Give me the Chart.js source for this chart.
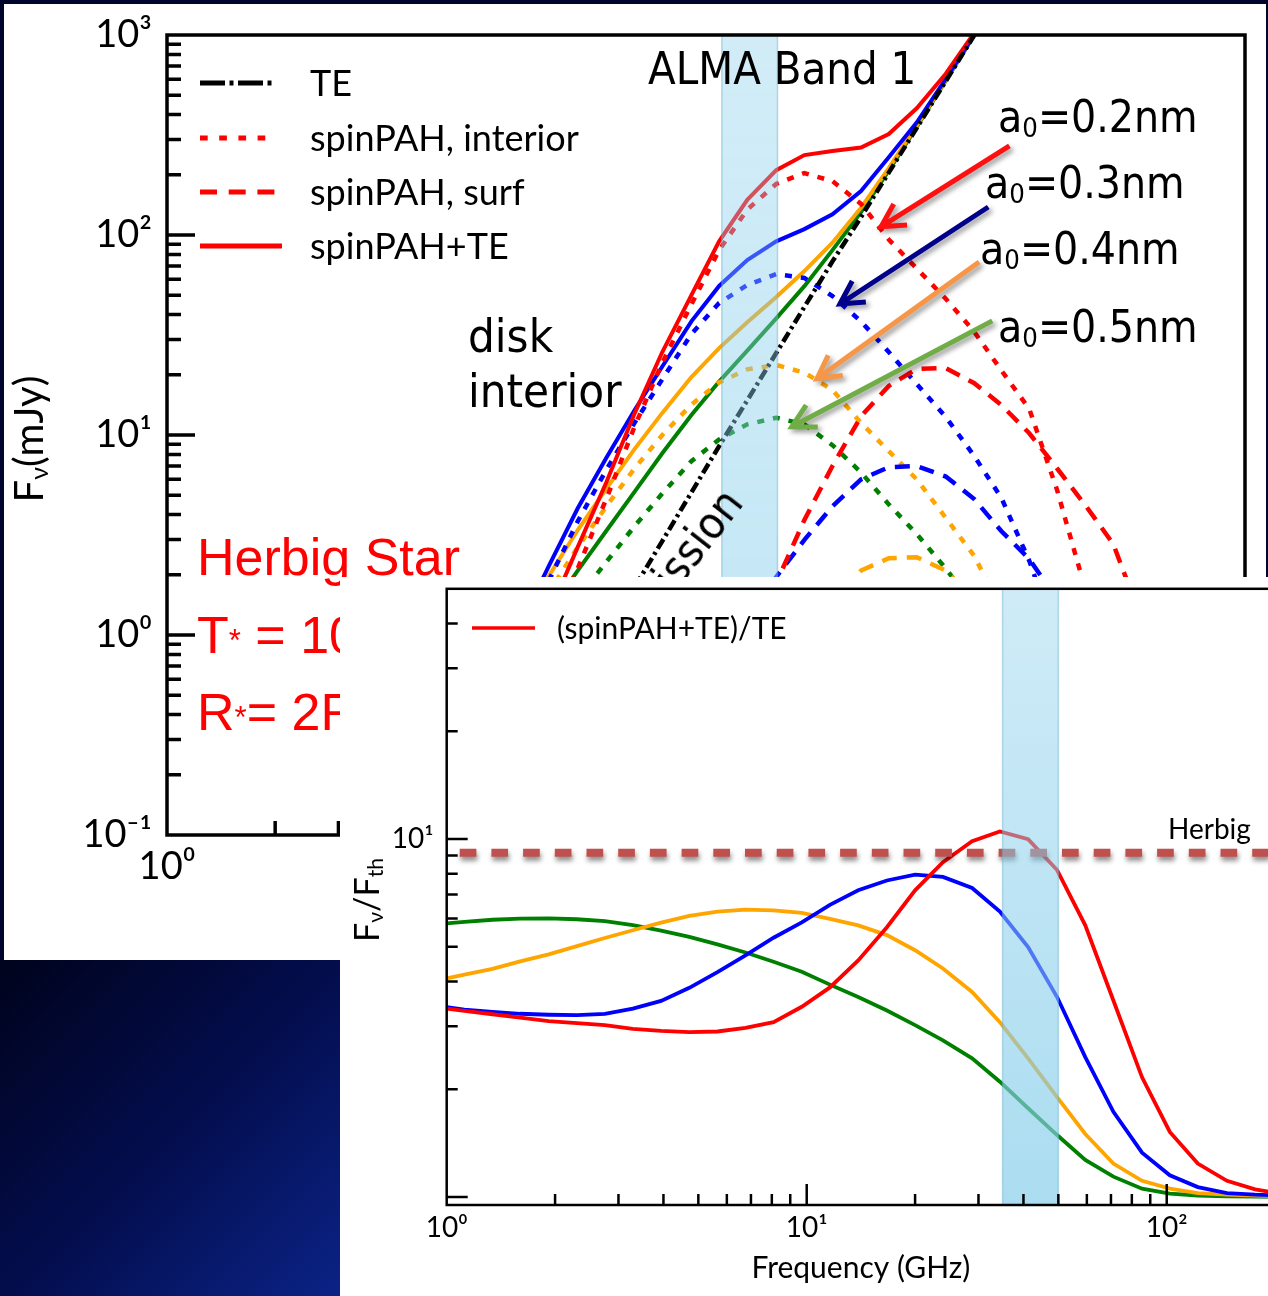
<!DOCTYPE html>
<html>
<head>
<meta charset="utf-8">
<title>Spinning PAH emission - Herbig star disk</title>
<script src="https://cdn.jsdelivr.net/npm/chart.js@4.4.1/dist/chart.umd.min.js"></script>
<style>
  html, body { margin: 0; padding: 0; }
  body {
    width: 1268px; height: 1296px; overflow: hidden; position: relative;
    background: #00052c;
    font-family: Lato, "DejaVu Sans", sans-serif; color: #000;
  }
  #bg { position: absolute; left: 0; top: 960px; width: 340px; height: 336px;
        background: linear-gradient(135deg, #00031c 0%, #030d4c 50%, #0b2386 100%); }
  #panel { position: absolute; left: 4px; top: 4px; width: 1262px; height: 956px; background: #fff; }
  #mainChart { position: absolute; left: 0; top: 0; }
  .t { position: absolute; white-space: nowrap; line-height: 1; }
  .ppt { font-family: "DejaVu Sans Condensed", "DejaVu Sans", sans-serif; font-stretch: condensed; }
  .leg { font-size: 36px; }
  .star { color: #ff0000; font-family: "Liberation Sans", Arial, sans-serif; font-size: 52px; }
  sub { font-size: 0.62em; vertical-align: -0.2em; line-height: 0; }
  #inset { position: absolute; left: 340px; top: 577px; width: 928px; height: 719px; background: #fff; overflow: hidden; }
  #insetChart { position: absolute; left: 0; top: 0; }
</style>
</head>
<body>
<div id="bg"></div>
<div id="panel"></div>
<canvas id="mainChart" width="1268" height="960"></canvas>

<!-- legend of the main panel -->
<svg class="t" style="left:195px;top:60px" width="100" height="200">
  <line x1="5" y1="23" x2="81" y2="23" stroke="#000" stroke-width="5" stroke-dasharray="25 4.5 4 4.5"/>
  <line x1="5" y1="78" x2="76" y2="78" stroke="#ff0000" stroke-width="5" stroke-dasharray="7.7 11.5"/>
  <line x1="5" y1="132" x2="84" y2="132" stroke="#ff0000" stroke-width="5" stroke-dasharray="17 11.7"/>
  <line x1="5" y1="186" x2="87" y2="186" stroke="#ff0000" stroke-width="5"/>
</svg>
<div class="t leg" style="left:310px;top:64px">TE</div>
<div class="t leg" style="left:310px;top:119px">spinPAH, interior</div>
<div class="t leg" style="left:310px;top:173px">spinPAH, surf</div>
<div class="t leg" style="left:310px;top:227px">spinPAH+TE</div>

<div class="t" style="left:-122px;top:419px;width:300px;text-align:center;font-size:40px;transform:rotate(-90deg)">F<sub>ν</sub>(mJy)</div>

<div class="t ppt" style="left:648px;top:46px;font-size:45px">ALMA Band 1</div>
<div class="t ppt" style="left:468px;top:312px;font-size:47px">disk</div>
<div class="t ppt" style="left:468px;top:367px;font-size:47px">interior</div>
<div class="t ppt" style="left:998px;top:95px;font-size:44px">a<sub>0</sub>=0.2nm</div>
<div class="t ppt" style="left:985px;top:161px;font-size:44px">a<sub>0</sub>=0.3nm</div>
<div class="t ppt" style="left:980px;top:227px;font-size:44px">a<sub>0</sub>=0.4nm</div>
<div class="t ppt" style="left:998px;top:305px;font-size:44px">a<sub>0</sub>=0.5nm</div>
<div class="t ppt" style="left:244px;top:466px;width:500px;text-align:right;font-size:45px;transform-origin:100% 37px;transform:rotate(-52deg)">thermal emission</div>

<div class="t star" style="left:197px;top:531px">Herbig Star</div>
<div class="t star" style="left:197px;top:609px">T<span style="font-size:0.6em;vertical-align:0.05em">*</span> = 10000 K</div>
<div class="t star" style="left:197px;top:686px">R<span style="font-size:0.6em;vertical-align:0.05em">*</span>= 2R<span style="font-size:0.6em">☉</span></div>

<div id="inset">
  <canvas id="insetChart" width="960" height="719"></canvas>
  <svg class="t" style="left:128px;top:41px" width="80" height="20">
    <line x1="4" y1="10" x2="67" y2="10" stroke="#ff0000" stroke-width="3.5"/>
  </svg>
  <div class="t" style="left:217px;top:35px;font-size:30px">(spinPAH+TE)/TE</div>
  <div class="t" style="left:828px;top:237px;font-size:28px">Herbig</div>
  <div class="t" style="left:-124px;top:306px;width:300px;text-align:center;font-size:34px;transform:rotate(-90deg)">F<sub>ν</sub>/F<sub>th</sub></div>
</div>

<script>
const bandLo = 35;   // ALMA Band 1, GHz
const bandHi = 50;

// main panel: flux density (mJy) against frequency (GHz)
const freqMain = [9.69, 11.6, 13.9, 16.7, 20.0, 23.9, 28.8, 34.4, 41.2, 49.6, 59.4, 71.1,
                  85.4, 102, 122, 147, 176, 210, 251, 300, 359, 430, 515, 616];
const fluxTE   = [0.2, 0.34, 0.58, 1.0, 1.73, 2.95, 5.16, 8.8, 14.9, 25.7, 43.7, 73.8,
                  123, 205, 343, 588, 990, 1650];
// a0 = 0.2 nm
const tot02  = [0.67, 1.30, 2.75, 5.8, 12.8, 26, 50, 93, 150, 211, 251, 263, 274, 320, 430, 640, 1020, 1680];
const int02  = [0.47, 0.96, 2.15, 4.8, 11, 23, 45, 84, 134, 180, 204, 186, 143, 95, 68, 48, 33, 21, 13.5, 5.3, 1.7, 0.35];
const surf02 = [null, null, null, null, null, null, null, 0.45, 0.9, 1.82, 3.76, 7.0, 12.4, 17.6, 21.4, 21.6,
                18.2, 14.1, 10.2, 6.8, 4.47, 2.85, 1.2, 0.4];
// a0 = 0.3 nm
const tot03  = [1.16, 2.25, 4.3, 7.7, 13.3, 22, 37, 55.6, 75, 93, 107, 127, 166, 245, 365, 603, 995, 1660];
const int03  = [0.96, 1.9, 3.7, 6.7, 11.5, 19, 32, 45.7, 56.2, 63.8, 61, 49.5, 37, 26, 18, 12.3, 7.9, 4.84, 2.35, 0.94, 0.3];
const surf03 = [null, null, null, null, null, null, 0.3, 0.6, 1.22, 1.95, 2.99, 4.4, 6.0, 6.9, 7.0, 6.2,
                4.8, 3.3, 2.4, 1.5, 0.8];
// a0 = 0.4 nm
const tot04  = [1.22, 2.0, 3.35, 5.4, 8.5, 12.9, 19.5, 27.2, 36.6, 49, 66, 91.5, 137, 216, 352, 597, 1000, 1660];
const int04  = [1.0, 1.66, 2.75, 4.4, 6.8, 10, 14.2, 18.3, 21.3, 22.4, 20.5, 16.8, 11.5, 8.3, 6.0, 3.85, 2.5, 1.35, 0.6];
const surf04 = [null, null, null, null, null, null, null, null, null, 0.5, 0.9, 1.5, 2.1, 2.42, 2.45, 2.1,
                1.5, 1.0, 0.6];
// a0 = 0.5 nm
const tot05  = [0.84, 1.32, 2.1, 3.32, 5.2, 8.1, 12.6, 18.5, 26.4, 38.3, 55.5, 84, 130, 210, 347, 591, 993, 1655];
const int05  = [0.62, 0.98, 1.52, 2.32, 3.5, 5.1, 7.4, 9.5, 11.3, 12.2, 11.3, 8.9, 6.5, 4.5, 3.2, 2.15, 1.4, 0.85];

// inset: (spinPAH+TE)/TE
const freqRatio = [1.0, 1.12, 1.34, 1.60, 1.92, 2.30, 2.75, 3.29, 3.94, 4.72, 5.65, 6.76, 8.09, 9.69,
                   11.6, 13.9, 16.7, 20.0, 23.9, 28.8, 34.4, 41.2, 49.6, 59.4, 71.1, 85.4, 102, 122, 147, 176, 210];
const ratio02 = [3.36, 3.31, 3.24, 3.17, 3.10, 3.06, 3.02, 2.95, 2.91, 2.89, 2.90, 2.97, 3.08, 3.40,
                 3.85, 4.58, 5.67, 7.19, 8.62, 9.86, 10.5, 9.99, 8.19, 5.74, 3.54, 2.16, 1.52, 1.24, 1.11, 1.05, 1.02];
const ratio03 = [3.39, 3.34, 3.29, 3.25, 3.23, 3.22, 3.25, 3.36, 3.53, 3.84, 4.25, 4.73, 5.3, 5.85,
                 6.55, 7.19, 7.66, 7.95, 7.84, 7.3, 6.27, 4.99, 3.62, 2.46, 1.73, 1.33, 1.15, 1.066, 1.026, 1.015, 1.01];
const ratio04 = [4.08, 4.18, 4.34, 4.55, 4.76, 5.02, 5.29, 5.56, 5.84, 6.1, 6.27, 6.35, 6.32, 6.22,
                 5.98, 5.74, 5.39, 4.89, 4.35, 3.74, 3.08, 2.44, 1.90, 1.50, 1.24, 1.11, 1.055, 1.026, 1.015, 1.01, 1.005];
const ratio05 = [5.81, 5.87, 5.95, 5.99, 6.0, 5.97, 5.9, 5.75, 5.55, 5.33, 5.08, 4.82, 4.54, 4.26,
                 3.92, 3.62, 3.32, 3.02, 2.74, 2.44, 2.10, 1.77, 1.49, 1.27, 1.14, 1.055, 1.022, 1.01, 1.005, 1.003, 1.0];
const herbigLevel = 9.15;

// arrows from the a0 labels, in data units [GHz, mJy]
const arrows = [
  { from: [221, 279], to: [97.1, 110], color: '#ff1010' },
  { from: [193, 138], to: [74.6, 45.2], color: '#00008b' },
  { from: [182, 73.3], to: [64.4, 19.1], color: '#f79646' },
  { from: [198, 37.2], to: [54.8, 11.0], color: '#70ad47' },
];

Chart.defaults.font.family = "Lato, 'DejaVu Sans', sans-serif";
Chart.defaults.color = '#000';

const SUP = { '-': '⁻', '0': '⁰', '1': '¹', '2': '²', '3': '³' };
function decadeLabel(v) {
  const e = Math.log10(v);
  const r = Math.round(e);
  if (Math.abs(e - r) > 1e-6) return '';
  return '10' + String(r).split('').map(c => SUP[c]).join('');
}

function logMarks(min, max) {
  const out = [];
  for (let d = Math.floor(Math.log10(min)); d <= Math.ceil(Math.log10(max)); d++) {
    for (let k = 1; k <= 9; k++) {
      const v = k * Math.pow(10, d);
      if (v > min * 1.0001 && v < max / 1.0001) out.push([v, k === 1]);
    }
  }
  return out;
}

function pts(xs, ys) {
  return xs.map((x, i) => ({ x, y: ys[i] })).filter(p => p.y != null);
}

const DASH = { solid: [], dotted: [7, 9], dashed: [15, 10], dashdot: [11, 4, 3, 4] };
function line(label, xs, ys, color, style, width) {
  return {
    label, data: pts(xs, ys), borderColor: color, borderDash: DASH[style],
    borderWidth: width, pointRadius: 0, tension: 0, fill: false, spanGaps: true
  };
}

function drawArrow(ctx, x0, y0, x1, y1) {
  const ang = Math.atan2(y1 - y0, x1 - x0), h = 26, s = 0.5;
  ctx.beginPath();
  ctx.moveTo(x0, y0);
  ctx.lineTo(x1, y1);
  ctx.moveTo(x1 - h * Math.cos(ang - s), y1 - h * Math.sin(ang - s));
  ctx.lineTo(x1, y1);
  ctx.lineTo(x1 - h * Math.cos(ang + s), y1 - h * Math.sin(ang + s));
  ctx.stroke();
}

const framePlugin = {
  id: 'frame',
  beforeDatasetDraw(chart, args) {
    if (chart.data.datasets[args.index].shadow) {
      const ctx = chart.ctx;
      ctx.save();
      ctx.shadowColor = 'rgba(0,0,0,0.45)';
      ctx.shadowBlur = 5;
      ctx.shadowOffsetX = 1;
      ctx.shadowOffsetY = 4;
    }
  },
  afterDatasetDraw(chart, args) {
    if (chart.data.datasets[args.index].shadow) chart.ctx.restore();
  },
  afterDatasetsDraw(chart, args, o) {
    const { ctx, chartArea: a, scales: { x, y } } = chart;

    // ALMA band 1 shading, on top of the curves
    const x0 = x.getPixelForValue(bandLo), x1 = x.getPixelForValue(bandHi);
    const g = ctx.createLinearGradient(0, a.top, 0, a.bottom);
    g.addColorStop(0, 'rgba(135,206,235,' + o.bandAlpha[0] + ')');
    g.addColorStop(1, 'rgba(135,206,235,' + o.bandAlpha[1] + ')');
    ctx.save();
    ctx.fillStyle = g;
    ctx.fillRect(x0, a.top, x1 - x0, a.bottom - a.top);
    ctx.strokeStyle = 'rgba(100,175,205,0.45)';
    ctx.lineWidth = 1.5;
    ctx.beginPath();
    ctx.moveTo(x0, a.top); ctx.lineTo(x0, a.bottom);
    ctx.moveTo(x1, a.top); ctx.lineTo(x1, a.bottom);
    ctx.stroke();
    ctx.restore();

    // annotation arrows
    (o.arrows || []).forEach(ar => {
      ctx.save();
      ctx.strokeStyle = ar.color;
      ctx.lineWidth = 5;
      ctx.lineJoin = 'miter';
      ctx.shadowColor = 'rgba(0,0,0,0.4)';
      ctx.shadowBlur = 5;
      ctx.shadowOffsetX = 3;
      ctx.shadowOffsetY = 3;
      drawArrow(ctx, x.getPixelForValue(ar.from[0]), y.getPixelForValue(ar.from[1]),
                x.getPixelForValue(ar.to[0]), y.getPixelForValue(ar.to[1]));
      ctx.restore();
    });

    // frame and inward ticks
    ctx.save();
    ctx.strokeStyle = '#000';
    ctx.lineWidth = o.lw;
    ctx.strokeRect(a.left, a.top, a.right - a.left, a.bottom - a.top);
    ctx.beginPath();
    logMarks(y.min, y.max).forEach(([v, major]) => {
      const py = y.getPixelForValue(v);
      ctx.moveTo(a.left, py);
      ctx.lineTo(a.left + (major ? o.major : o.minor), py);
    });
    logMarks(x.min, x.max).forEach(([v, major]) => {
      const px = x.getPixelForValue(v);
      ctx.moveTo(px, a.bottom);
      ctx.lineTo(px, a.bottom - (major ? o.major : o.minor));
    });
    ctx.stroke();
    ctx.restore();
  }
};

function zeroPad(scale) {
  scale.paddingLeft = 0; scale.paddingRight = 0; scale.paddingTop = 0; scale.paddingBottom = 0;
}

// ---- main panel
const mainSets = [
  line('TE', freqMain, fluxTE, '#000000', 'dashdot', 4.5),
  line('spinPAH+TE a0=0.2nm', freqMain, tot02, '#ff0000', 'solid', 4),
  line('spinPAH, interior a0=0.2nm', freqMain, int02, '#ff0000', 'dotted', 4.5),
  line('spinPAH, surf a0=0.2nm', freqMain, surf02, '#ff0000', 'dashed', 4.5),
  line('spinPAH+TE a0=0.3nm', freqMain, tot03, '#0000ff', 'solid', 4),
  line('spinPAH, interior a0=0.3nm', freqMain, int03, '#0000ff', 'dotted', 4.5),
  line('spinPAH, surf a0=0.3nm', freqMain, surf03, '#0000ff', 'dashed', 4.5),
  line('spinPAH+TE a0=0.4nm', freqMain, tot04, '#ffa500', 'solid', 4),
  line('spinPAH, interior a0=0.4nm', freqMain, int04, '#ffa500', 'dotted', 4.5),
  line('spinPAH, surf a0=0.4nm', freqMain, surf04, '#ffa500', 'dashed', 4.5),
  line('spinPAH+TE a0=0.5nm', freqMain, tot05, '#008000', 'solid', 4),
  line('spinPAH, interior a0=0.5nm', freqMain, int05, '#008000', 'dotted', 4.5),
];

new Chart(document.getElementById('mainChart'), {
  type: 'line',
  data: { datasets: mainSets },
  plugins: [framePlugin],
  options: {
    responsive: false,
    animation: false,
    events: [],
    layout: { padding: { left: 7, top: 35, right: 23, bottom: 55 } },
    plugins: {
      legend: { display: false },
      tooltip: { enabled: false },
      frame: { lw: 3.5, major: 28, minor: 14, bandAlpha: [0.38, 0.52], arrows }
    },
    scales: {
      x: {
        type: 'logarithmic', min: 1, max: 1000,
        grid: { display: false, drawTicks: false }, border: { display: false },
        ticks: { callback: decadeLabel, autoSkip: false, maxRotation: 0, minRotation: 0,
                 padding: 9, font: { size: 38 } },
        afterFit(s) { s.height = 70; zeroPad(s); }
      },
      y: {
        type: 'logarithmic', min: 0.1, max: 1000,
        grid: { display: false, drawTicks: false }, border: { display: false },
        ticks: { callback: decadeLabel, autoSkip: false, padding: 15, font: { size: 38 } },
        afterFit(s) { s.width = 160; zeroPad(s); }
      }
    }
  }
});

// ---- inset
const insetSets = [
  Object.assign(line('Herbig', [1, 200], [herbigLevel, herbigLevel], '#c0504d', 'solid', 8),
                { borderDash: [16.7, 15], borderDashOffset: 18.7, shadow: true }),
  line('a0=0.2nm', freqRatio, ratio02, '#ff0000', 'solid', 3.8),
  line('a0=0.3nm', freqRatio, ratio03, '#0000ff', 'solid', 3.8),
  line('a0=0.4nm', freqRatio, ratio04, '#ffa500', 'solid', 3.8),
  line('a0=0.5nm', freqRatio, ratio05, '#008000', 'solid', 3.8),
];

new Chart(document.getElementById('insetChart'), {
  type: 'line',
  data: { datasets: insetSets },
  plugins: [framePlugin],
  options: {
    responsive: false,
    animation: false,
    events: [],
    layout: { padding: { left: 6.7, top: 11.8, right: 24.9, bottom: 1 } },
    plugins: {
      legend: { display: false },
      tooltip: { enabled: false },
      frame: { lw: 2.5, major: 21, minor: 11, bandAlpha: [0.4, 0.7] }
    },
    scales: {
      x: {
        type: 'logarithmic', min: 1, max: 200,
        grid: { display: false, drawTicks: false }, border: { display: false },
        ticks: { callback: decadeLabel, autoSkip: false, maxRotation: 0, minRotation: 0,
                 padding: 6, font: { size: 28 } },
        title: { display: true, text: 'Frequency (GHz)', font: { size: 30 }, padding: { top: 0, bottom: 9 } },
        afterFit(s) { s.height = 90; zeroPad(s); }
      },
      y: {
        type: 'logarithmic', min: 0.95, max: 50,
        grid: { display: false, drawTicks: false }, border: { display: false },
        ticks: { callback: decadeLabel, autoSkip: false, padding: 13, font: { size: 28 } },
        afterFit(s) { s.width = 100; zeroPad(s); }
      }
    }
  }
});
</script>
</body>
</html>
